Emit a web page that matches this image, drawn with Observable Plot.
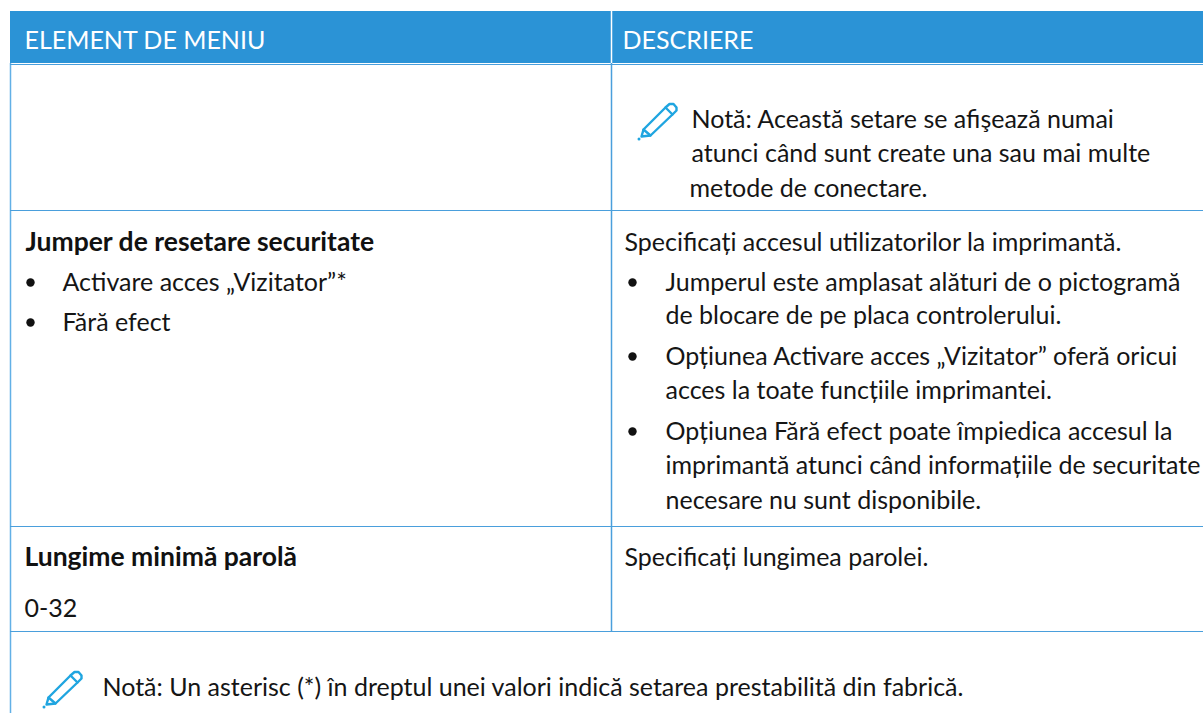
<!DOCTYPE html>
<html><head><meta charset="utf-8">
<script src="https://cdn.jsdelivr.net/npm/d3@7"></script>
<script src="https://cdn.jsdelivr.net/npm/@observablehq/plot@0.6"></script>
<style>html,body{margin:0;padding:0;background:#fff}svg{display:block}</style>
</head><body><div id="c"></div>
<script>
const headers = ["ELEMENT DE MENIU","DESCRIERE"];
const headerX = [24,622];
const headerY = 40;
const bodyLines = [
 {t:"Notă: Această setare se afişează numai",x:691,y:119},
 {t:"atunci când sunt create una sau mai multe",x:691,y:153},
 {t:"metode de conectare.",x:689,y:188},
 {t:"Specificați accesul utilizatorilor la imprimantă.",x:624,y:242},
 {t:"Jumperul este amplasat alături de o pictogramă",x:665,y:282},
 {t:"de blocare de pe placa controlerului.",x:665,y:315},
 {t:"Opțiunea Activare acces „Vizitator” oferă oricui",x:665,y:356},
 {t:"acces la toate funcțiile imprimantei.",x:665,y:390},
 {t:"Opțiunea Fără efect poate împiedica accesul la",x:665,y:431},
 {t:"imprimantă atunci când informațiile de securitate",x:665,y:465},
 {t:"necesare nu sunt disponibile.",x:665,y:500},
 {t:"Specificați lungimea parolei.",x:624,y:557},
 {t:"Activare acces „Vizitator”*",x:62,y:282},
 {t:"Fără efect",x:62,y:322},
 {t:"0-32",x:24,y:608},
 {t:"Notă: Un asterisc (*) în dreptul unei valori indică setarea prestabilită din fabrică.",x:102,y:687}
];
const boldLines = [
 {t:"Jumper de resetare securitate",x:25,y:242},
 {t:"Lungime minimă parolă",x:24,y:557}
];
const bullets = [{x:30,y:282},{x:30,y:322},{x:632,y:282},{x:632,y:356},{x:632,y:431}];
const hLines = [64,210,526,631];
const dividerX = 611;
const leftX = 10;
const iconPos = [{x:638,y:102},{x:43,y:670}];
const pencil = [[3,34],[5,27],[27,5],[31,1.5],[35,1.5],[38,5],[38,8],[34,12],[12,33],[3,34]];
const pencil2 = [[5,27],[12,33]];
const pencil3 = [[27,5],[34,12]];
const pencilTip = [0.5,36.5];
const font = "Lato";
const fs = 25;
const lines = [];
iconPos.forEach((p,i)=>{
  [pencil,pencil2,pencil3].forEach((s,j)=>s.forEach(q=>lines.push({x:p.x+q[0],y:p.y+q[1],z:i+"-"+j})));
});
const plot = Plot.plot({
  width:1203,height:713,margin:0,
  style:{background:"#fff"},
  x:{type:"identity",axis:null},y:{type:"identity",axis:null},
  marks:[
    Plot.rect([{a:10,b:1203,c:11,d:63}],{x1:"a",x2:"b",y1:"c",y2:"d",fill:"#2b93d6"}),
    Plot.ruleX([dividerX],{y1:11,y2:63,stroke:"#fff",strokeWidth:1.5}),
    Plot.ruleX([leftX],{y1:63,y2:713,stroke:"#62b0e6",strokeWidth:1.5}),
    Plot.ruleX([dividerX],{y1:63,y2:631,stroke:"#4a9fdc",strokeWidth:1.5}),
    Plot.ruleY(hLines,{x1:10,x2:1203,stroke:"#4a9fdc",strokeWidth:1.2}),
    Plot.text(headers,{x:(d,i)=>headerX[i],y:()=>headerY,text:d=>d,fill:"#fff",textAnchor:"start",fontFamily:font,fontSize:fs}),
    Plot.text(bodyLines,{x:"x",y:"y",text:"t",fill:"#151515",textAnchor:"start",fontFamily:font,fontSize:fs}),
    Plot.text(boldLines,{x:"x",y:"y",text:"t",fill:"#111",textAnchor:"start",fontFamily:font,fontSize:26.5,fontWeight:700}),
    Plot.dot(bullets,{x:"x",y:"y",r:4.2,fill:"#111"}),
    Plot.line(lines,{x:"x",y:"y",z:"z",stroke:"#1fa5e0",strokeWidth:2.4,curve:"linear"}),
    Plot.dot(iconPos,{x:d=>d.x+pencilTip[0],y:d=>d.y+pencilTip[1],r:1.5,fill:"#1fa5e0"})
  ]
});
document.getElementById("c").append(plot);
</script></body></html>
